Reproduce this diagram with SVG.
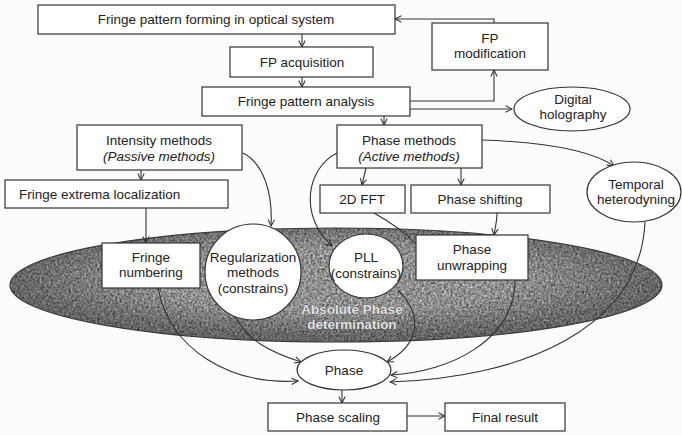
<svg xmlns="http://www.w3.org/2000/svg" width="682" height="435" viewBox="0 0 682 435">
<style>
.box{fill:#fff;stroke:#333;stroke-width:1.2}
.ell{fill:#fff;stroke:#333;stroke-width:1.2}
.t{font-family:"Liberation Sans",Arial,sans-serif;font-size:13.5px;fill:#222;text-anchor:middle}
.i{font-style:italic}
.c{fill:none;stroke:#333;stroke-width:1.1}
.abs{font-family:"Liberation Sans",Arial,sans-serif;font-size:13.5px;font-weight:bold;fill:#e2e2e2;stroke:#4a4a4a;stroke-width:0.7;text-anchor:middle;paint-order:stroke}
</style>
<defs>
<marker id="ar" viewBox="0 0 10 10" refX="9" refY="5" markerWidth="8" markerHeight="8" orient="auto" markerUnits="userSpaceOnUse">
<path d="M1,1 L9,5 L1,9" fill="none" stroke="#333" stroke-width="1.3"/>
</marker>
<filter id="speckle" x="0" y="0" width="100%" height="100%" color-interpolation-filters="sRGB">
<feTurbulence type="fractalNoise" baseFrequency="0.45" numOctaves="3" seed="5" result="n"/>
<feColorMatrix in="n" type="matrix" values="0.33 0.33 0.33 0 0 0.33 0.33 0.33 0 0 0.33 0.33 0.33 0 0 0 0 0 0 1" result="g"/>
<feComponentTransfer in="g" result="c">
<feFuncR type="linear" slope="1.3" intercept="-0.08"/>
<feFuncG type="linear" slope="1.3" intercept="-0.08"/>
<feFuncB type="linear" slope="1.3" intercept="-0.08"/>
</feComponentTransfer>
<feComposite in="c" in2="SourceAlpha" operator="in"/>
</filter>
<radialGradient id="edge" cx="0.5" cy="0.45" r="0.5">
<stop offset="0.55" stop-color="#000" stop-opacity="0"/>
<stop offset="1" stop-color="#000" stop-opacity="0.3"/>
</radialGradient>
</defs>
<rect width="682" height="435" fill="#fcfcfb"/>

<g id="absolute-phase">
<ellipse cx="336" cy="285" rx="326" ry="57" fill="#888" filter="url(#speckle)"/>
<ellipse cx="336" cy="285" rx="326" ry="57" fill="url(#edge)" stroke="#3a3a3a" stroke-width="1.2"/>
<text class="abs" x="352" y="314">Absolute Phase</text>
<text class="abs" x="352" y="329">determination</text>
</g>

<g id="connectors">
<line class="c" x1="302" y1="34" x2="302" y2="47" marker-end="url(#ar)"/>
<line class="c" x1="302" y1="77" x2="302" y2="87" marker-end="url(#ar)"/>
<polyline class="c" points="410,101 494,101 494,70" marker-end="url(#ar)"/>
<polyline class="c" points="494,23 494,19 395,19" marker-end="url(#ar)"/>
<line class="c" x1="410" y1="109" x2="512" y2="109" marker-end="url(#ar)"/>
<line class="c" x1="384" y1="116" x2="384" y2="125" marker-end="url(#ar)"/>
<line class="c" x1="141" y1="170" x2="141" y2="180" marker-end="url(#ar)"/>
<line class="c" x1="146" y1="208" x2="146" y2="243" marker-end="url(#ar)"/>
<path class="c" d="M243,153 C263,163 273,192 271,226" marker-end="url(#ar)"/>
<path class="c" d="M337,153 C307,168 298,215 332,246" marker-end="url(#ar)"/>
<line class="c" x1="366" y1="168" x2="362" y2="185" marker-end="url(#ar)"/>
<line class="c" x1="461" y1="168" x2="461" y2="185" marker-end="url(#ar)"/>
<path class="c" d="M482,140 C540,142 590,150 614,166" marker-end="url(#ar)"/>
<path class="c" d="M374,213 C390,222 405,232 416,244"/>
<path class="c" d="M497,213 C497,222 495,228 494,235" marker-end="url(#ar)"/>
<path class="c" d="M158,288 C170,350 230,385 298,381" marker-end="url(#ar)"/>
<path class="c" d="M234,314 C246,340 270,352 301,362" marker-end="url(#ar)"/>
<path class="c" d="M398,290 C425,318 418,345 387,362" marker-end="url(#ar)"/>
<path class="c" d="M515,280 C515,340 450,372 391,375" marker-end="url(#ar)"/>
<path class="c" d="M645,222 C640,330 520,378 390,382" marker-end="url(#ar)"/>
<line class="c" x1="342" y1="390" x2="342" y2="403" marker-end="url(#ar)"/>
<line class="c" x1="407" y1="416" x2="445" y2="416" marker-end="url(#ar)"/>
</g>

<g id="fp-forming"><rect class="box" x="38" y="5" width="357" height="29"/><text class="t" x="216" y="24">Fringe pattern forming in optical system</text></g>
<g id="fp-modification"><rect class="box" x="432" y="23" width="116" height="47"/><text class="t" x="490" y="43">FP</text><text class="t" x="490" y="58">modification</text></g>
<g id="fp-acquisition"><rect class="box" x="230" y="47" width="143" height="30"/><text class="t" x="302" y="66.5">FP acquisition</text></g>
<g id="fp-analysis"><rect class="box" x="202" y="87" width="208" height="29"/><text class="t" x="306" y="106">Fringe pattern analysis</text></g>
<g id="digital-holography"><ellipse class="ell" cx="572" cy="109" rx="58" ry="22"/><text class="t" x="573" y="104">Digital</text><text class="t" x="573" y="119">holography</text></g>
<g id="intensity-methods"><rect class="box" x="77" y="125" width="165" height="45"/><text class="t" x="159" y="145">Intensity methods</text><text class="t i" x="159" y="161">(Passive methods)</text></g>
<g id="phase-methods"><rect class="box" x="337" y="125" width="145" height="43"/><text class="t" x="409" y="145">Phase methods</text><text class="t i" x="409" y="161">(Active methods)</text></g>
<g id="fringe-extrema"><rect class="box" x="5" y="180" width="223" height="28"/><text class="t" x="19" y="198.5" style="text-anchor:start">Fringe extrema localization</text></g>
<g id="fft"><rect class="box" x="320" y="185" width="85" height="28"/><text class="t" x="362" y="203.5">2D FFT</text></g>
<g id="phase-shifting"><rect class="box" x="411" y="185" width="139" height="28"/><text class="t" x="480" y="203.5">Phase shifting</text></g>
<g id="temporal-heterodyning"><ellipse class="ell" cx="634" cy="192" rx="47" ry="30"/><text class="t" x="636" y="189">Temporal</text><text class="t" x="636" y="204">heterodyning</text></g>
<g id="fringe-numbering"><rect class="box" x="102" y="243" width="98" height="45"/><text class="t" x="151" y="262">Fringe</text><text class="t" x="151" y="277">numbering</text></g>
<g id="regularization"><circle class="ell" cx="253" cy="272" r="48"/><text class="t" x="253" y="262">Regularization</text><text class="t" x="253" y="277">methods</text><text class="t" x="253" y="293">(constrains)</text></g>
<g id="pll"><ellipse class="ell" cx="366" cy="266" rx="37" ry="32"/><text class="t" x="366" y="262">PLL</text><text class="t" x="366" y="278">(constrains)</text></g>
<g id="phase-unwrapping"><rect class="box" x="416" y="235" width="112" height="45"/><text class="t" x="472" y="254">Phase</text><text class="t" x="472" y="270">unwrapping</text></g>
<g id="phase"><ellipse class="ell" cx="344" cy="370" rx="47" ry="20"/><text class="t" x="344" y="375">Phase</text></g>
<g id="phase-scaling"><rect class="box" x="268" y="403" width="139" height="28"/><text class="t" x="338" y="421.5">Phase scaling</text></g>
<g id="final-result"><rect class="box" x="445" y="403" width="120" height="28"/><text class="t" x="505" y="421.5">Final result</text></g>
</svg>
